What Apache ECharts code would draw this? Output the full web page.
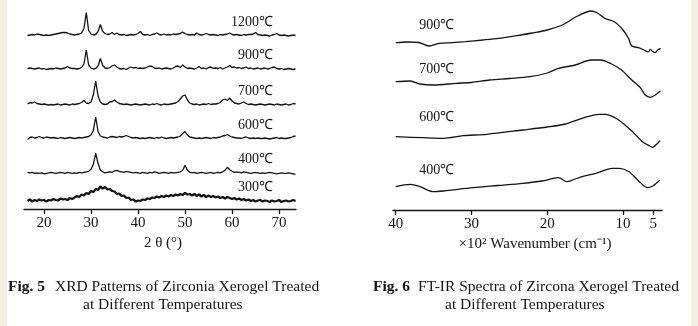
<!DOCTYPE html>
<html>
<head>
<meta charset="utf-8">
<script src="https://cdn.jsdelivr.net/npm/echarts@6/dist/echarts.min.js"></script>
<style>
html,body{margin:0;padding:0;background:#ffffff;}
#c{width:698px;height:326px;}
</style>
</head>
<body>
<div id="c"></div>
<script>
// ---------- Fig. 5 : XRD patterns ----------
const xrdTheta = [16.5,17,17.5,18,18.5,19,19.5,20,20.5,21,
21.5,22,22.5,23,23.5,24,24.5,25,25.5,26,
26.5,27,27.5,28,28.5,29,29.5,30,30.5,31,
31.5,32,32.5,33,33.5,34,34.5,35,35.5,36,
36.5,37,37.5,38,38.5,39,39.5,40,40.5,41,
41.5,42,42.5,43,43.5,44,44.5,45,45.5,46,
46.5,47,47.5,48,48.5,49,49.5,50,50.5,51,
51.5,52,52.5,53,53.5,54,54.5,55,55.5,56,
56.5,57,57.5,58,58.5,59,59.5,60,60.5,61,
61.5,62,62.5,63,63.5,64,64.5,65,65.5,66,
66.5,67,67.5,68,68.5,69,69.5,70,70.5,71,
71.5,72,72.5,73,73.5];

const xrd1200 = [0,0.5,1,0.5,1.5,1,0.5,0,0.5,0,
0.5,1,1.5,2,2.5,3,3,2.5,1.5,1,
0.5,1,1.5,2.5,7,23,5,1.5,0.5,1,
4,11,4,2,1,1.5,3,1,2.5,1,
0.5,1,0,0.5,1,0.5,1,2,4,1,
0.5,1,0,1,1.5,2.5,1,0.5,1.5,0.5,
1,0.5,1.5,1,1.5,2,3.5,2,1,0.5,
1,0.5,2.5,1,0.5,1,2,1,0.5,1,
0.5,0,1,0.5,1,1.5,2.5,1,0.5,1,
0.5,0,1,0.5,1,1,1.5,3,1,0.5,
0,0.5,0,-0.5,0.5,1,2,0.5,0,0.5,
0,-0.5,0,0.5,0];

const xrd900 = [0.5,1,0.5,0,0.5,1,0,0.5,-0.5,0,
0.5,0,1,0.5,0,0.5,1,2.5,1,0.5,
0.5,0,0.5,1.5,5,19,4,1,0,0.5,
3,10.5,3.5,1,0.5,1.5,3,4,2,0.5,
0,0.5,-0.5,1,2,1,1.5,0.5,1,0.5,
1,2,3,2.5,1,0.5,1,0,0.5,1,
0.5,0,1,2.5,3,1.5,4,2,0.5,1,
0.5,0,1,2.5,0.5,1,0,1.5,2,0.5,
1,0.5,1.5,0,1,2,3.5,1.5,2,1,
1.5,0.5,1,2,0.5,1,0,0.5,1,0,
0.5,1,0,0.5,1.5,2,0.5,0,0.5,-0.5,
0,0.5,0,-0.5,0];

const xrd700 = [1,2.5,2,3,1.5,1,0.5,1,0.5,0,
0.5,0,0.5,1,0,0.5,1,0.5,0,1,
0.5,1,1.5,2.5,4.5,2,1.5,3,10,24,
9,3,1,0.5,1,3,3.5,5,3,1.5,
1,0.5,1,0.5,0,0.5,1,0.5,0,0.5,
1,0.5,0,1,0.5,1.5,0.5,0,1,0.5,
0.5,1,1.5,2,3.5,6,9,10,5,2,
1,0.5,1,0,0.5,1,0.5,1.5,0.5,1,
1,1.5,2.5,5,6,4.5,7,4,2,1.5,
1,2,3,1.5,0.5,1,0.5,0,0.5,1,
0.5,0,0.5,1,0.5,0,1,0.5,0,0.5,
1,0,0.5,1.5,1];

const xrd600 = [-1,1,1.5,0.5,1,2,1,0.5,1.5,1,
0.5,1,0.5,0,1,0.5,0,0.5,1,0.5,
0,0.5,1,0.5,1,1.5,2,3.5,8,21.5,
7,2.5,1.5,1,0.5,1.5,2,1.5,1,2,
1.5,2,3,2,1,0.5,1,0.5,0,0.5,
0,0.5,1,0.5,0,1,0.5,1.5,0.5,0,
0.5,1,0.5,1,1.5,2.5,5,7,3.5,1.5,
1,0.5,0,0.5,0,0.5,1,0.5,0,1,
0.5,1,1.5,2.5,3,4,2.5,1.5,1,0.5,
0.5,0,1,1.5,0.5,0,0.5,0,0.5,0,
0,0.5,0,-0.5,0,0.5,1,0,0.5,0,
0,0.5,1,2,2.5];

const xrd400 = [1,0.5,1,0,0.5,0,0.5,-0.5,0,0.5,
1,0.5,0,0.5,1,0.5,0,1,0.5,0,
0.5,0,1,0.5,1,1.5,2,4,9,20,
10,3,1.5,0.5,1,1.5,1,2.5,3,2,
1.5,1,2,1.5,1,0.5,1,0.5,0,1,
0.5,0,1,0.5,1.5,1,0,0.5,1,0.5,
0,1,0.5,0.5,1,1.5,3,8,3,1,
0.5,1,0,0.5,1,0.5,0,0.5,1,0,
0.5,1,0.5,1.5,3,6,3.5,2,1,1.5,
1,0.5,1.5,1,0.5,0,0.5,1,0.5,0,
0.5,0,0.5,1,0.5,0,-0.5,0,0.5,0,
0,0.5,0,-0.5,-1];

const xrd300 = [0,1.5,-0.5,1,0,1.5,0.5,1,-0.5,1,
0.5,2,1,0.5,2.5,1.5,2,1,3,2,
3.5,5,4,6.5,5.5,8,7,10,9,12,
11,14.5,12.5,14,11.5,12,10,9.5,7,7.5,
5,5.5,3,3.5,1,1.5,-0.5,0.5,0,1.5,
1,2.5,2,3.5,3,4.5,3.5,5,4,5.5,
4.5,6,5,6.5,5.5,7,6,8,6.5,7,
5.5,7,5,6.5,4.5,6,4,5.5,4,5,
3.5,4.5,3,4,2.5,4,3,2,3,1.5,
2.5,1,2,0.5,1.5,0,1,-0.5,0.5,1,
-0.5,0.5,0,-1,0.5,-0.5,0,1,-1,0,
0.5,-0.5,0,1,0];

const xrdLabels = ['1200℃','900℃','700℃','600℃','400℃','300℃'];
const xrdTicks = [20,30,40,50,60,70];

// ---------- Fig. 6 : FT-IR spectra (x in 10^2 cm^-1) ----------
const ftirWave900 = [40,38.5,37,35.6,34.3,32.5,30.8,28.5,26.4,24,22,20,18,17.2,16,14.2,13.5,12.4,11.1,10,9.1,8.55,7.45,6.9,6.33,5.8,5.5,5.2,4.67,4.3,3.8];
const ftir900 = [17.3,18,17.5,14,16.7,17.3,18.3,20,21.7,24.3,27,30,35,38.5,44,49,47.5,41.7,38,30,21.7,14,12.3,11,9.3,8.3,10.5,9,7.3,10,11.7];

const ftirWave700 = [40,38.1,36.8,35,32,30,27.6,25,22.3,20,18.5,16.3,14.2,13,11.5,10.2,8.55,7.2,6.33,5.5,4.67,3.83];
const ftir700 = [18.3,19,16,15,16.7,17.5,20,21.5,23.3,27,31.7,35,40,40,36,30,20,12.7,5,2.7,5,9.3];

const ftirWave600 = [40,36.4,33.7,31.1,28,23.2,20,17.6,15.4,13.2,12.3,11,10.1,9.5,8.4,6.8,5.6,5.1,4.5,3.9];
const ftir600 = [13.3,12.3,11.7,14.3,15.7,20,23,26,31.7,35.7,35.7,32,27.3,24,18.3,8.3,4,2.7,5.5,9.3];

const ftirWave400 = [40,38.1,36.8,35,33.7,29.8,26.5,23.2,20.7,18.5,17.4,16.5,15.4,13.6,11.4,10.5,9,7.3,5.95,5.1,3.9];
const ftir400 = [13.3,15.7,13.3,8.3,9,12.3,14.5,16.7,19,22.3,18.3,20.5,23.3,26.7,31.7,31.7,28.3,18.3,12.3,14,20];

const ftirLabels = ['900℃','700℃','600℃','400℃'];
const ftirTicks = [40,30,20,10,5];

// ---------- layout / style (not data) ----------
const SERIF = '"Liberation Serif","Times New Roman",serif';
const INK = '#141414';
const xrdOffsets = [173.5,140,104,70.5,35.7,8];
const xrdLabelLift = 13.5;
const xrdLabelX = 68.7;
const ftirOffsets = [150,110,60,10];
const ftirLabelLift = [35,31,33,30];
const ftirLabelX = 36.9;

// the FT-IR axis is compressed below 10 (x10^2 cm^-1)
function toAxis(w){ return w >= 10 ? w : 10 - (10 - w) * 0.8; }
function fromAxis(d){ return d >= 10 ? d : 10 - (10 - d) / 0.8; }

const xrdSets = [xrd1200, xrd900, xrd700, xrd600, xrd400, xrd300];
const ftirSets = [[ftirWave900, ftir900],[ftirWave700, ftir700],[ftirWave600, ftir600],[ftirWave400, ftir400]];

const series = [];
xrdSets.forEach(function(vals, k){
  series.push({
    type:'line', xAxisIndex:0, yAxisIndex:0, symbol:'none', silent:true,
    data: xrdTheta.map(function(t,i){ return [t, vals[i] + xrdOffsets[k]]; }),
    lineStyle:{color:INK, width: k === 5 ? 2.3 : 1.3},
    markPoint:{
      symbol:'circle', symbolSize:0, silent:true,
      data:[{coord:[xrdLabelX, xrdOffsets[k] + xrdLabelLift], value:0}],
      label:{show:true, position:'left', distance:0, formatter: xrdLabels[k],
             color:INK, fontSize:14, fontFamily:SERIF}
    }
  });
});
ftirSets.forEach(function(pair, k){
  series.push({
    type:'line', xAxisIndex:1, yAxisIndex:1, symbol:'none', silent:true, smooth:0.3,
    data: pair[0].map(function(w,i){ return [toAxis(w), pair[1][i] + ftirOffsets[k]]; }),
    lineStyle:{color:INK, width:1.3},
    markPoint:{
      symbol:'circle', symbolSize:0, silent:true,
      data:[{coord:[ftirLabelX, ftirOffsets[k] + ftirLabelLift[k]], value:0}],
      label:{show:true, position:'right', distance:0, formatter: ftirLabels[k],
             color:INK, fontSize:14, fontFamily:SERIF}
    }
  });
});

const axisCommon = {
  type:'value',
  axisLine:{show:true, onZero:false, lineStyle:{color:INK, width:1.3}},
  splitLine:{show:false},
  nameLocation:'middle',
  nameTextStyle:{color:INK, fontSize:15, fontFamily:SERIF}
};

const chart = echarts.init(document.getElementById('c'), null, {renderer:'canvas'});
chart.setOption({
  animation:false,
  backgroundColor:'#ffffff',
  grid:[
    {left:24, width:272, top:0, height:209},
    {left:393, width:269, top:0, height:210}
  ],
  xAxis:[
    Object.assign({}, axisCommon, {
      gridIndex:0, min:15.75, max:73.6,
      axisTick:{show:true, customValues:xrdTicks, length:5, lineStyle:{color:INK, width:1.3}},
      axisLabel:{customValues:xrdTicks, margin:7, color:INK, fontSize:15, fontFamily:SERIF},
      name:'2 θ (°)', nameGap:25,
      nameTextStyle:{color:INK, fontSize:15, fontFamily:SERIF, padding:[0,0,0,6]}
    }),
    Object.assign({}, axisCommon, {
      gridIndex:1, inverse:true, min:4.855, max:40.36,
      axisTick:{show:true, customValues:ftirTicks.map(toAxis), length:5, lineStyle:{color:INK, width:1.3}},
      axisLabel:{customValues:ftirTicks.map(toAxis), margin:7, color:INK, fontSize:15, fontFamily:SERIF,
        formatter:function(v){ return String(Math.round(fromAxis(v))); }},
      name:'×10² Wavenumber (cm⁻¹)', nameGap:25,
      nameTextStyle:{color:INK, fontSize:15, fontFamily:SERIF, padding:[0,0,0,15]}
    })
  ],
  yAxis:[
    {gridIndex:0, type:'value', min:0, max:209, show:false},
    {gridIndex:1, type:'value', min:0, max:210, show:false}
  ],
  graphic:[
    {type:'rect', shape:{x:0, y:0, width:7, height:326}, style:{fill:'#f6f0e4'}, silent:true, z:-10},
    {type:'rect', shape:{x:691, y:0, width:7, height:326}, style:{fill:'#f6f0e4'}, silent:true, z:-10},
    {type:'text', x:8, y:287, style:{text:'Fig. 5', font:'bold 15.5px ' + SERIF, fill:INK, verticalAlign:'middle'}},
    {type:'text', x:55, y:287, style:{text:'XRD Patterns of Zirconia Xerogel Treated', font:'15.5px ' + SERIF, fill:INK, verticalAlign:'middle'}},
    {type:'text', x:83, y:305, style:{text:'at Different Temperatures', font:'15.5px ' + SERIF, fill:INK, verticalAlign:'middle'}},
    {type:'text', x:373, y:287, style:{text:'Fig. 6', font:'bold 15.5px ' + SERIF, fill:INK, verticalAlign:'middle'}},
    {type:'text', x:418, y:287, style:{text:'FT-IR Spectra of Zircona Xerogel Treated', font:'15.5px ' + SERIF, fill:INK, verticalAlign:'middle'}},
    {type:'text', x:445, y:305, style:{text:'at Different Temperatures', font:'15.5px ' + SERIF, fill:INK, verticalAlign:'middle'}}
  ],
  series: series
});
</script>
</body>
</html>
